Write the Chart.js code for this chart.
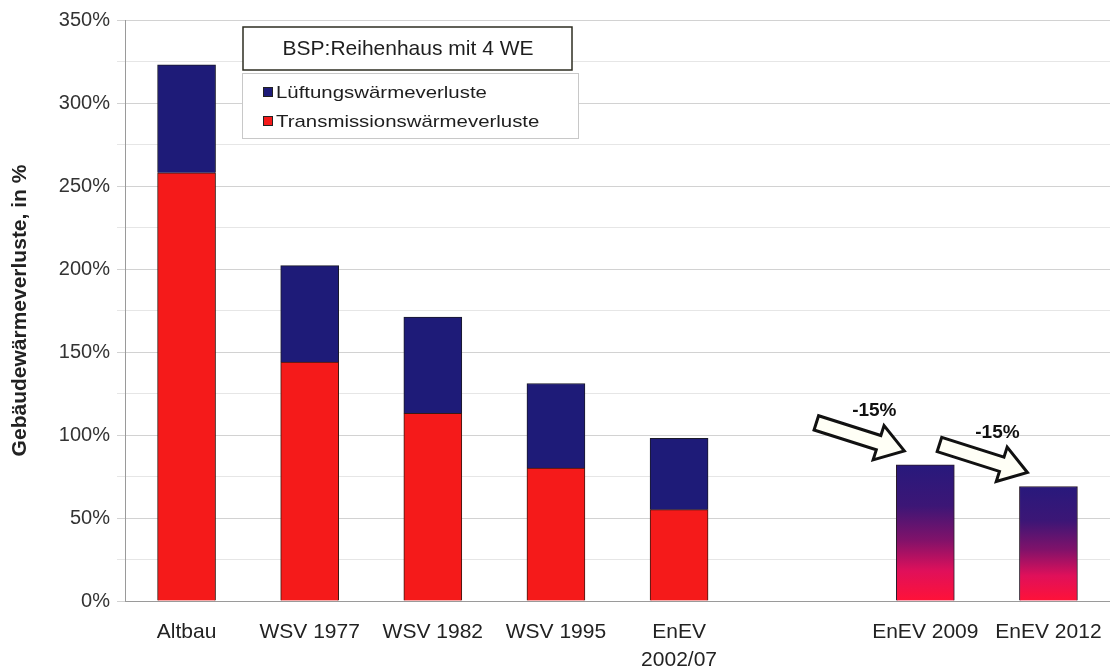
<!DOCTYPE html>
<html>
<head>
<meta charset="utf-8">
<title>Gebäudewärmeverluste</title>
<script src="https://cdn.jsdelivr.net/npm/chart.js@4.4.1/dist/chart.umd.min.js"></script>
<style>
  html, body { margin: 0; padding: 0; background: #fff; }
  #wrap { width: 1110px; height: 672px; position: relative; }
</style>
</head>
<body>
<div id="wrap"><canvas id="lossChart"></canvas></div>
<script>
// Chart data
const categories = ['Altbau', 'WSV 1977', 'WSV 1982', 'WSV 1995', ['EnEV', '2002/07'], '', 'EnEV 2009', 'EnEV 2012'];
const transmission = [258, 144, 113, 80, 55, null, null, null];
const lueftung = [65, 58, 58, 51, 43, null, null, null];
const gesamtNeu = [null, null, null, null, null, null, 82, 69];
const reduction = [null, null, null, null, null, null, '-15%', '-15%'];
const yMax = 350;
const yStep = 25;
const chartTitle = 'BSP:Reihenhaus mit 4 WE';
const yTitle = 'Gebäudewärmeverluste, in %';

const NAVY = '#1e1b78';
const RED = '#f51a1a';
const FONT = '"Liberation Sans", Arial, sans-serif';

// gradient for the newer (combined) bars
function combinedGradient(context) {
  const chart = context.chart;
  const y = chart.scales.y;
  const value = context.raw;
  if (!chart.chartArea || !y || value == null) return NAVY;
  const top = y.getPixelForValue(value);
  const bottom = y.getPixelForValue(0);
  const g = chart.ctx.createLinearGradient(0, top, 0, bottom);
  g.addColorStop(0, '#28197c');
  g.addColorStop(0.3, '#3c1676');
  g.addColorStop(0.55, '#80126a');
  g.addColorStop(0.78, '#e0105a');
  g.addColorStop(1, '#ff1238');
  return g;
}

// title box, legend box, arrows
const overlayPlugin = {
  id: 'overlay',
  afterDraw(chart) {
    const ctx = chart.ctx;
    ctx.save();

    // title box
    ctx.fillStyle = '#fff';
    ctx.fillRect(243, 27, 329, 43);
    ctx.strokeStyle = '#2e2e22';
    ctx.lineWidth = 1.5;
    ctx.strokeRect(243, 27, 329, 43);
    ctx.fillStyle = '#1e1e1e';
    ctx.font = '21px ' + FONT;
    ctx.textAlign = 'center';
    ctx.textBaseline = 'middle';
    ctx.fillText(chartTitle, 408, 49);

    // legend box
    ctx.fillStyle = '#fff';
    ctx.fillRect(242, 73, 336, 65);
    ctx.strokeStyle = '#c8c8c8';
    ctx.lineWidth = 1;
    ctx.strokeRect(242.5, 73.5, 336, 65);
    const items = [chart.data.datasets[1], chart.data.datasets[0]];
    items.forEach((ds, i) => {
      const cy = 92 + i * 29;
      ctx.fillStyle = ds.backgroundColor;
      ctx.fillRect(263, cy - 5, 10, 10);
      ctx.strokeStyle = '#222';
      ctx.strokeRect(263.5, cy - 4.5, 9, 9);
      ctx.save();
      ctx.translate(276, cy);
      ctx.scale(1.2, 1);
      ctx.fillStyle = '#1e1e1e';
      ctx.font = '17px ' + FONT;
      ctx.textAlign = 'left';
      ctx.fillText(ds.label, 0, 1);
      ctx.restore();
    });

    // arrows with reduction labels
    const meta = chart.getDatasetMeta(2);
    reduction.forEach((txt, i) => {
      if (!txt) return;
      const bar = meta.data[i];
      if (!bar) return;
      const tipX = bar.x - bar.width / 2 + 8;
      const tipY = bar.y - 14;
      const tailX = tipX - 88;
      const tailY = tipY - 28;
      const len = Math.hypot(tipX - tailX, tipY - tailY);
      const ux = (tipX - tailX) / len, uy = (tipY - tailY) / len;
      const nx = -uy, ny = ux;
      const sw = 7.5, hw = 18, hl = 27;
      const neckX = tipX - ux * hl, neckY = tipY - uy * hl;
      ctx.beginPath();
      ctx.moveTo(tailX + nx * sw, tailY + ny * sw);
      ctx.lineTo(neckX + nx * sw, neckY + ny * sw);
      ctx.lineTo(neckX + nx * hw, neckY + ny * hw);
      ctx.lineTo(tipX, tipY);
      ctx.lineTo(neckX - nx * hw, neckY - ny * hw);
      ctx.lineTo(neckX - nx * sw, neckY - ny * sw);
      ctx.lineTo(tailX - nx * sw, tailY - ny * sw);
      ctx.closePath();
      ctx.fillStyle = '#fffff6';
      ctx.fill();
      ctx.strokeStyle = '#111';
      ctx.lineWidth = 3;
      ctx.lineJoin = 'miter';
      ctx.stroke();

      ctx.fillStyle = '#111';
      ctx.font = 'bold 19px ' + FONT;
      ctx.textAlign = 'center';
      ctx.textBaseline = 'middle';
      ctx.fillText(txt, tipX - 30, tipY - 40);
    });

    ctx.restore();
  }
};

document.addEventListener('DOMContentLoaded', function() {
  const ctx = document.getElementById('lossChart');

  new Chart(ctx, {
    type: 'bar',
    data: {
      labels: categories,
      datasets: [
        {
          label: 'Transmissionswärmeverluste',
          data: transmission,
          backgroundColor: RED,
          borderColor: '#3a1a12',
          borderWidth: 1,
          barThickness: 58
        },
        {
          label: 'Lüftungswärmeverluste',
          data: lueftung,
          backgroundColor: NAVY,
          borderColor: '#1a1a2a',
          borderWidth: 1,
          barThickness: 58
        },
        {
          label: 'Gesamt',
          data: gesamtNeu,
          backgroundColor: combinedGradient,
          borderColor: '#2a1a2a',
          borderWidth: 1,
          barThickness: 58
        }
      ]
    },
    options: {
      responsive: true,
      maintainAspectRatio: false,
      animation: false,
      layout: {
        padding: { top: 20, left: 0, right: 0, bottom: 0 }
      },
      scales: {
        x: {
          stacked: true,
          afterFit(scale) {
            scale.height = 71;
            scale.paddingRight = 0;
          },
          grid: { display: false, drawTicks: false },
          border: { color: '#9a9a9a' },
          ticks: {
            autoSkip: false,
            maxRotation: 0,
            padding: 18,
            color: '#222',
            font: { family: FONT, size: 21, lineHeight: 1.3 }
          }
        },
        y: {
          stacked: true,
          min: 0,
          max: yMax,
          afterFit(scale) { scale.width = 125; },
          border: { color: '#9a9a9a' },
          grid: {
            color: (c) => (c.tick && c.tick.value % 50 === 0) ? '#d2d2d2' : '#e6e6e6',
            tickLength: 8
          },
          ticks: {
            stepSize: yStep,
            padding: 7,
            color: '#333',
            font: { family: FONT, size: 20 },
            callback: (v) => (v % 50 === 0 ? v + '%' : '')
          },
          title: {
            display: true,
            text: yTitle,
            color: '#222',
            padding: { top: 8, bottom: 0 },
            font: { family: FONT, size: 21, weight: 'bold' }
          }
        }
      },
      plugins: {
        legend: { display: false },
        tooltip: { enabled: false }
      }
    },
    plugins: [overlayPlugin]
  });
});
</script>
</body>
</html>
